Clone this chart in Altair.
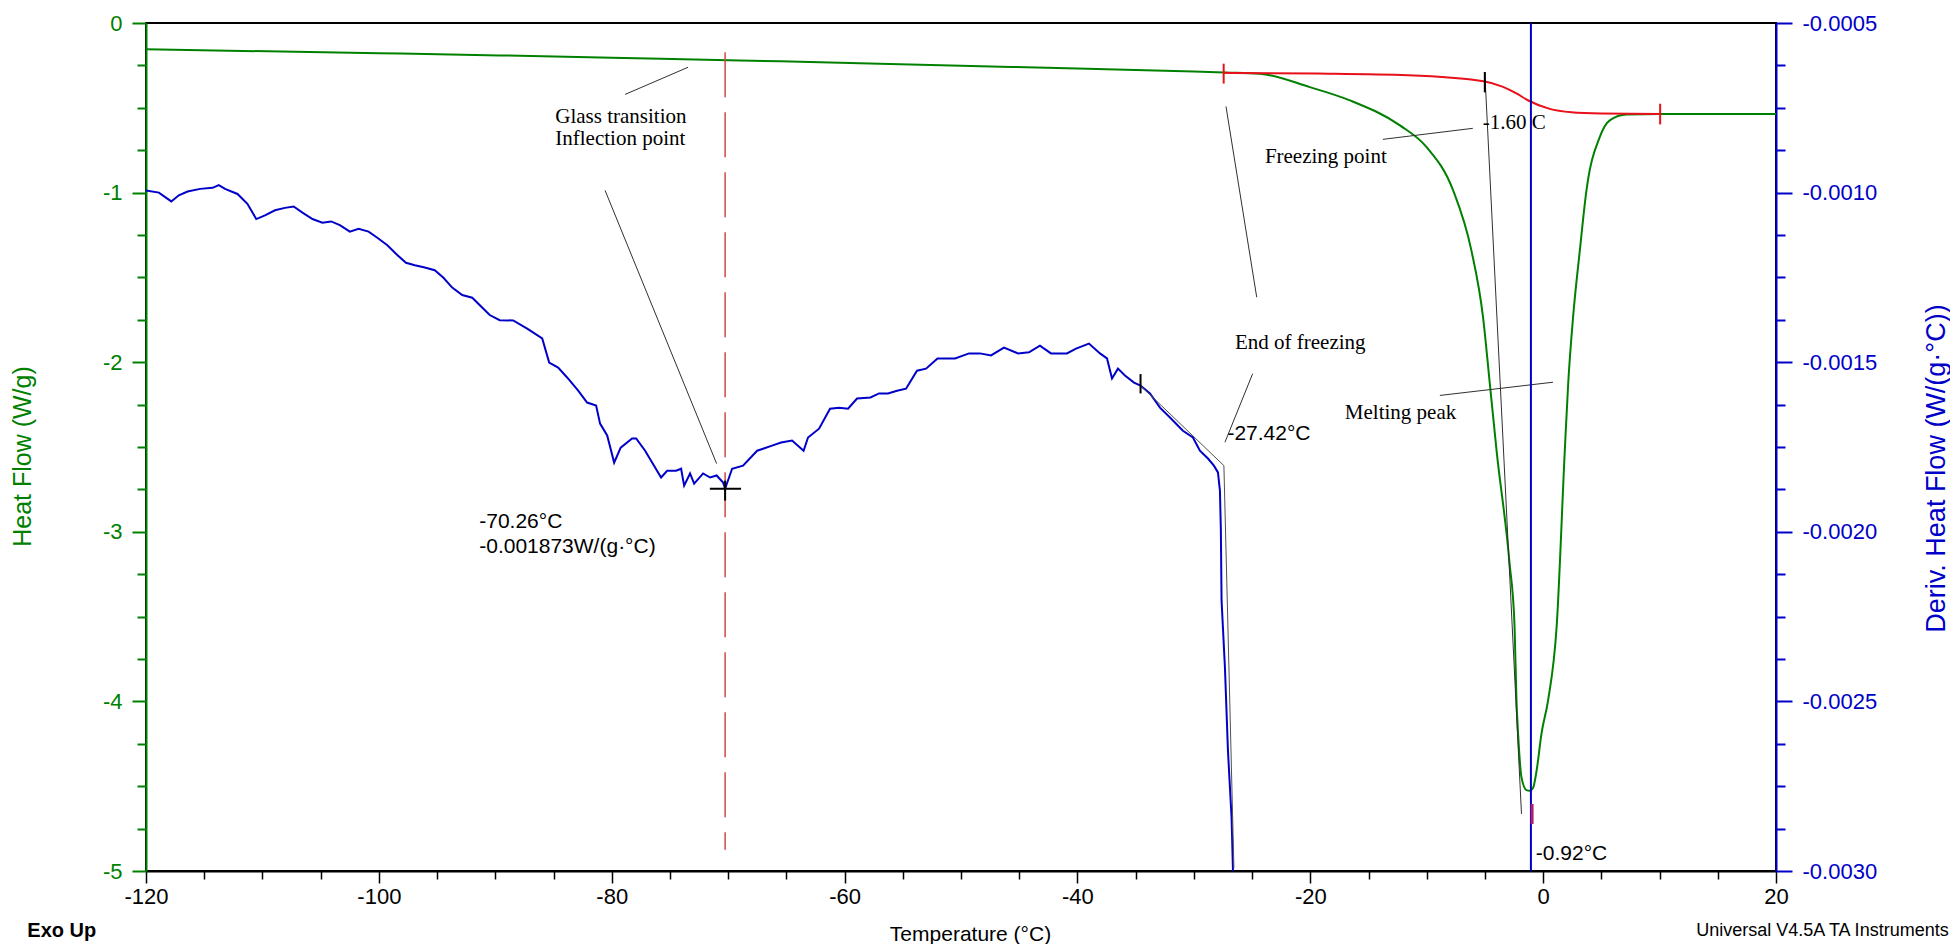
import altair as alt
import pandas as pd

# ---------------- axis ticks ----------------
X_TICKS = list(range(-120, 21, 5))
HF_TICKS = [round(-0.25 * i, 2) for i in range(21)]
DHF_TICKS = [round(-0.0005 - 0.000125 * i, 6) for i in range(21)]

# ---------------- heat flow curve (W/g) ----------------
GREEN_T = [-120.0, -100.0, -89.6, -80.0, -70.0, -63.8, -50.0, -40.0, -30.0, -27.4,
           -24.33, -20.04, -16.6, -12.3, -10.01, -7.73, -6.16, -5.16, -4.58, -4.0,
           -2.89, -2.46, -2.29, -2.15, -1.86, -1.43, -1.15, -0.87, -0.52, -0.15,
           0.42, 1.17, 1.86, 2.15, 2.57, 3.15, 3.72, 4.86, 5.72, 7.16,
           10.0, 20.0]
GREEN_HF = [-0.155, -0.178, -0.191, -0.205, -0.219, -0.229, -0.252, -0.268, -0.286, -0.292,
            -0.299, -0.378, -0.456, -0.604, -0.732, -0.987, -1.342, -1.735, -2.127, -2.521,
            -3.182, -3.548, -3.996, -4.193, -4.448, -4.523, -4.527, -4.511, -4.389, -4.193,
            -3.996, -3.548, -2.521, -2.127, -1.735, -1.342, -0.987, -0.673, -0.574, -0.539,
            -0.537, -0.537]

# integration baseline (red)
RED_T = [-27.44, -19.46, -11.57, -5.13, -3.5, -2.3, -1.27, 0.5, 2.42, 5.0, 10.05]
RED_HF = [-0.294, -0.298, -0.308, -0.343, -0.375, -0.415, -0.457, -0.505, -0.526, -0.533, -0.536]

# ---------------- derivative curve (mW/(g.C)) ----------------
BLUE_T = [-120.0, -118.89, -117.83, -117.18, -116.43, -115.35, -114.28, -113.75, -113.21, -112.14,
          -111.29, -110.53, -109.78, -108.92, -108.07, -107.32, -106.56, -105.70, -104.85, -104.10,
          -103.35, -102.49, -101.74, -100.88, -100.13, -99.27, -98.42, -97.67, -96.91, -96.05,
          -95.20, -94.45, -93.70, -92.84, -91.98, -91.24, -90.48, -89.62, -88.46, -87.26,
          -85.97, -85.37, -84.60, -83.83, -82.88, -82.11, -81.34, -81.00, -80.39, -79.79,
          -79.23, -78.25, -77.90, -77.13, -76.53, -75.76, -75.24, -74.47, -74.04, -73.78,
          -73.27, -72.92, -72.15, -71.55, -70.99, -70.43, -70.26, -69.66, -68.72, -67.51,
          -67.00, -66.23, -65.45, -64.51, -63.52, -63.14, -62.19, -61.25, -60.47, -59.70,
          -58.93, -57.77, -57.04, -56.27, -55.49, -54.72, -53.78, -53.00, -52.02, -51.29,
          -50.51, -49.31, -48.37, -47.42, -46.31, -45.10, -44.16, -43.22, -42.27, -40.90,
          -40.12, -39.01, -38.06, -37.46, -37.03, -36.52, -35.92, -35.14, -34.58, -33.77,
          -32.91, -32.05, -30.94, -30.08, -29.48, -28.79, -28.28, -27.93, -27.76, -27.68,
          -27.62, -27.33, -27.07, -26.76, -26.64]
BLUE_MD = [-0.994, -1.000, -1.026, -1.008, -0.997, -0.989, -0.986, -0.978, -0.989, -1.004,
           -1.033, -1.078, -1.067, -1.052, -1.045, -1.041, -1.059, -1.078, -1.089, -1.085,
           -1.096, -1.115, -1.107, -1.115, -1.133, -1.155, -1.184, -1.207, -1.214, -1.221,
           -1.229, -1.251, -1.280, -1.302, -1.310, -1.335, -1.361, -1.376, -1.377, -1.401,
           -1.430, -1.501, -1.516, -1.545, -1.584, -1.619, -1.628, -1.681, -1.716, -1.796,
           -1.752, -1.725, -1.725, -1.761, -1.796, -1.840, -1.820, -1.820, -1.814, -1.864,
           -1.828, -1.858, -1.828, -1.840, -1.834, -1.855, -1.873, -1.814, -1.805, -1.761,
           -1.755, -1.746, -1.737, -1.731, -1.761, -1.722, -1.696, -1.637, -1.634, -1.637,
           -1.607, -1.604, -1.592, -1.592, -1.584, -1.578, -1.525, -1.519, -1.489, -1.489,
           -1.489, -1.474, -1.474, -1.480, -1.457, -1.474, -1.471, -1.451, -1.474, -1.474,
           -1.460, -1.445, -1.474, -1.489, -1.548, -1.519, -1.539, -1.560, -1.569, -1.592,
           -1.634, -1.663, -1.702, -1.722, -1.761, -1.784, -1.805, -1.825, -1.879, -1.997,
           -2.203, -2.401, -2.646, -2.843, -3.000]
BLUE_D = [v / 1000.0 for v in BLUE_MD]

# ---------------- annotations (heat-flow units) ----------------
LEADER_T1 = [-78.85, -80.57, -27.24, -24.95, -13.77, -8.87, -5.01]
LEADER_H1 = [-0.421, -0.987, -0.492, -2.068, -0.686, -2.196, -0.291]
LEADER_T2 = [-73.44, -70.99, -24.60, -27.33, -6.04, 0.85, -1.86]
LEADER_H2 = [-0.261, -2.598, -1.617, -2.472, -0.621, -2.118, -4.663]

REDTICK_T = [-27.44, 10.05]
REDTICK_H1 = [-0.240, -0.476]
REDTICK_H2 = [-0.357, -0.598]

ONSET_T = [-5.01]
ONSET_H1 = [-0.289]
ONSET_H2 = [-0.409]

PEAKTICK_T = [-0.95]
PEAKTICK_H1 = [-4.605]
PEAKTICK_H2 = [-4.723]

TG_T = [-70.26]
TG_H1 = [-0.173]
TG_H2 = [-4.874]

PEAK_T = [-1.05]
PEAK_H1 = [0.0]
PEAK_H2 = [-5.0]

SERIF_LABELS = ["Glass transition", "Inflection point", "Freezing point", "-1.60 C",
                "End of freezing", "Melting peak"]
SERIF_T = [-84.85, -84.85, -23.90, -5.18, -26.47, -17.03]
SERIF_H = [-0.556, -0.686, -0.792, -0.592, -1.888, -2.301]

SANS_LABELS = ["-70.26°C", "-0.001873W/(g·°C)", "-27.42°C", "-0.92°C"]
SANS_T = [-91.38, -91.38, -27.12, -0.63]
SANS_H = [-2.944, -3.087, -2.423, -4.900]

FOOT_LABELS = ["Exo Up", "Universal V4.5A TA Instruments"]
FOOT_T = [-130.19, 34.83]
FOOT_H = [-5.353, -5.353]

# ---------------- annotations (derivative units) ----------------
CROSS_T1 = [-71.57, -70.26, -34.58]
CROSS_T2 = [-68.89, -70.26, -34.58]
CROSS_D1 = [-0.001873, -0.001849, -0.001535]
CROSS_D2 = [-0.001873, -0.001908, -0.001592]

TAN_T1 = [-34.58, -27.42]
TAN_D1 = [-0.001569, -0.001805]
TAN_T2 = [-27.42, -26.56]
TAN_D2 = [-0.001805, -0.002991]

# ---------------- styling ----------------
SANS = "Liberation Sans, Arial, Helvetica, sans-serif"
SERIF = "Liberation Serif, Times New Roman, serif"
GREEN = "#008000"
BLUE = "#0000c8"
RED = "#e8101a"

x_scale = alt.Scale(domain=[-120, 20], nice=False, zero=False)
yl_scale = alt.Scale(domain=[-5, 0], nice=False, zero=False)
yr_scale = alt.Scale(domain=[-0.003, -0.0005], nice=False, zero=False)

x_axis = alt.Axis(
    values=X_TICKS, grid=False, title="Temperature (°C)",
    labelExpr="datum.value % 20 === 0 ? (datum.value < 0 ? '-' : '') + format(abs(datum.value), 'd') : ''",
    labelFont=SANS, labelFontSize=22, labelColor="black", labelPadding=3,
    labelFlush=False, labelOverlap=False,
    tickColor="black", tickWidth=1.5,
    tickSize={"condition": {"test": "datum.value % 20 === 0", "value": 12}, "value": 8},
    domainColor="black", domainWidth=2,
    titleFont=SANS, titleFontSize=21, titleFontWeight="normal", titleColor="black",
    titleX=824, titleY=63, titleAlign="center", titleBaseline="middle",
)

yl_axis = alt.Axis(
    orient="left", values=HF_TICKS, grid=False, title="Heat Flow (W/g)",
    labelExpr="abs(datum.value - round(datum.value)) < 1e-6 ? (datum.value < -0.5 ? '-' : '') + format(abs(datum.value), 'd') : ''",
    labelFont=SANS, labelFontSize=22, labelColor=GREEN, labelPadding=10,
    labelFlush=False, labelOverlap=False,
    tickColor=GREEN, tickWidth=2,
    tickSize={"condition": {"test": "abs(datum.value - round(datum.value)) < 1e-6", "value": 14}, "value": 9},
    domainColor=GREEN, domainWidth=2,
    titleFont=SANS, titleFontSize=25, titleFontWeight="normal", titleColor=GREEN,
    titleAngle=270, titleX=-123.5, titleY=433, titleAlign="center", titleBaseline="middle",
)

yr_axis = alt.Axis(
    orient="right", values=DHF_TICKS, grid=False, title="Deriv. Heat Flow (W/(g·°C))",
    labelExpr="abs(datum.value * 2000 - round(datum.value * 2000)) < 1e-6 ? '-' + format(abs(datum.value), '.4f') : ''",
    labelFont=SANS, labelFontSize=22, labelColor=BLUE, labelPadding=10,
    labelFlush=False, labelOverlap=False,
    tickColor=BLUE, tickWidth=2,
    tickSize={"condition": {"test": "abs(datum.value * 2000 - round(datum.value * 2000)) < 1e-6", "value": 16}, "value": 9},
    domainColor=BLUE, domainWidth=2,
    titleFont=SANS, titleFontSize=27, titleFontWeight="normal", titleColor=BLUE,
    titleAngle=270, titleX=160, titleY=445, titleAlign="center", titleBaseline="middle",
)


def X(field="t"):
    return alt.X(field, type="quantitative", scale=x_scale, axis=x_axis)


def YL(field="h"):
    return alt.Y(field, type="quantitative", scale=yl_scale, axis=yl_axis)


def YR(field="d"):
    return alt.Y(field, type="quantitative", scale=yr_scale, axis=yr_axis)


def seg_df(t1, h1, t2, h2):
    return pd.DataFrame({"t": t1, "h": h1, "t2": t2, "h2": h2})


def vseg_df(t, h1, h2):
    return pd.DataFrame({"t": t, "h": h1, "h2": h2})


green_df = pd.DataFrame({"t": GREEN_T, "h": GREEN_HF, "i": list(range(len(GREEN_T)))})
red_df = pd.DataFrame({"t": RED_T, "h": RED_HF, "i": list(range(len(RED_T)))})
blue_df = pd.DataFrame({"t": BLUE_T, "d": BLUE_D, "i": list(range(len(BLUE_T)))})

green_line = alt.Chart(green_df).mark_line(color=GREEN, strokeWidth=2, interpolate="monotone").encode(
    x=X(), y=YL(), order="i:Q")
red_line = alt.Chart(red_df).mark_line(color=RED, strokeWidth=2, interpolate="monotone").encode(
    x=X(), y=YL(), order="i:Q")

leaders = alt.Chart(seg_df(LEADER_T1, LEADER_H1, LEADER_T2, LEADER_H2)).mark_rule(
    color="#303030", strokeWidth=1).encode(x=X(), y=YL(), x2="t2:Q", y2="h2:Q")

red_ticks = alt.Chart(vseg_df(REDTICK_T, REDTICK_H1, REDTICK_H2)).mark_rule(
    color=RED, strokeWidth=2).encode(x=X(), y=YL(), y2="h2:Q")
onset_tick = alt.Chart(vseg_df(ONSET_T, ONSET_H1, ONSET_H2)).mark_rule(
    color="black", strokeWidth=2).encode(x=X(), y=YL(), y2="h2:Q")
peak_tick = alt.Chart(vseg_df(PEAKTICK_T, PEAKTICK_H1, PEAKTICK_H2)).mark_rule(
    color="#b0206a", strokeWidth=3).encode(x=X(), y=YL(), y2="h2:Q")
tg_line = alt.Chart(vseg_df(TG_T, TG_H1, TG_H2)).mark_rule(
    color="#d04848", strokeWidth=1.5, strokeDash=[45, 15]).encode(x=X(), y=YL(), y2="h2:Q")
peak_line = alt.Chart(vseg_df(PEAK_T, PEAK_H1, PEAK_H2)).mark_rule(
    color=BLUE, strokeWidth=2).encode(x=X(), y=YL(), y2="h2:Q")

serif_text = alt.Chart(pd.DataFrame({"t": SERIF_T, "h": SERIF_H, "label": SERIF_LABELS})).mark_text(
    align="left", baseline="middle", font=SERIF, fontSize=21, color="black").encode(
    x=X(), y=YL(), text="label:N")
sans_text = alt.Chart(pd.DataFrame({"t": SANS_T, "h": SANS_H, "label": SANS_LABELS})).mark_text(
    align="left", baseline="middle", font=SANS, fontSize=21, color="black").encode(
    x=X(), y=YL(), text="label:N")
foot_left = alt.Chart(pd.DataFrame({"t": FOOT_T[:1], "h": FOOT_H[:1], "label": FOOT_LABELS[:1]})).mark_text(
    align="left", baseline="middle", font=SANS, fontSize=20, fontWeight="bold", color="black").encode(
    x=X(), y=YL(), text="label:N")
foot_right = alt.Chart(pd.DataFrame({"t": FOOT_T[1:], "h": FOOT_H[1:], "label": FOOT_LABELS[1:]})).mark_text(
    align="right", baseline="middle", font=SANS, fontSize=18, color="black").encode(
    x=X(), y=YL(), text="label:N")

green_group = alt.layer(green_line, red_line, tg_line, leaders, red_ticks, onset_tick,
                        serif_text, sans_text, foot_left, foot_right, peak_line, peak_tick)

blue_line = alt.Chart(blue_df).mark_line(color=BLUE, strokeWidth=2).encode(
    x=X(), y=YR(), order="i:Q")
tangents = alt.Chart(pd.DataFrame({"t": TAN_T1, "d": TAN_D1, "t2": TAN_T2, "d2": TAN_D2})).mark_rule(
    color="#505050", strokeWidth=1).encode(x=X(), y=YR(), x2="t2:Q", y2="d2:Q")
crosses = alt.Chart(pd.DataFrame({"t": CROSS_T1, "d": CROSS_D1, "t2": CROSS_T2, "d2": CROSS_D2})).mark_rule(
    color="black", strokeWidth=2).encode(x=X(), y=YR(), x2="t2:Q", y2="d2:Q")

blue_group = alt.layer(blue_line, tangents, crosses)

chart = (
    alt.layer(green_group, blue_group)
    .resolve_scale(y="independent")
    .properties(
        width=1630, height=848,
        autosize=alt.AutoSizeParams(type="none"),
        padding={"left": 138, "top": 15, "right": 174, "bottom": 73},
        background="white",
    )
    .configure_view(stroke="black", strokeWidth=2)
)

chart.save("out.html", embed_options={"renderer": "svg", "actions": False})
